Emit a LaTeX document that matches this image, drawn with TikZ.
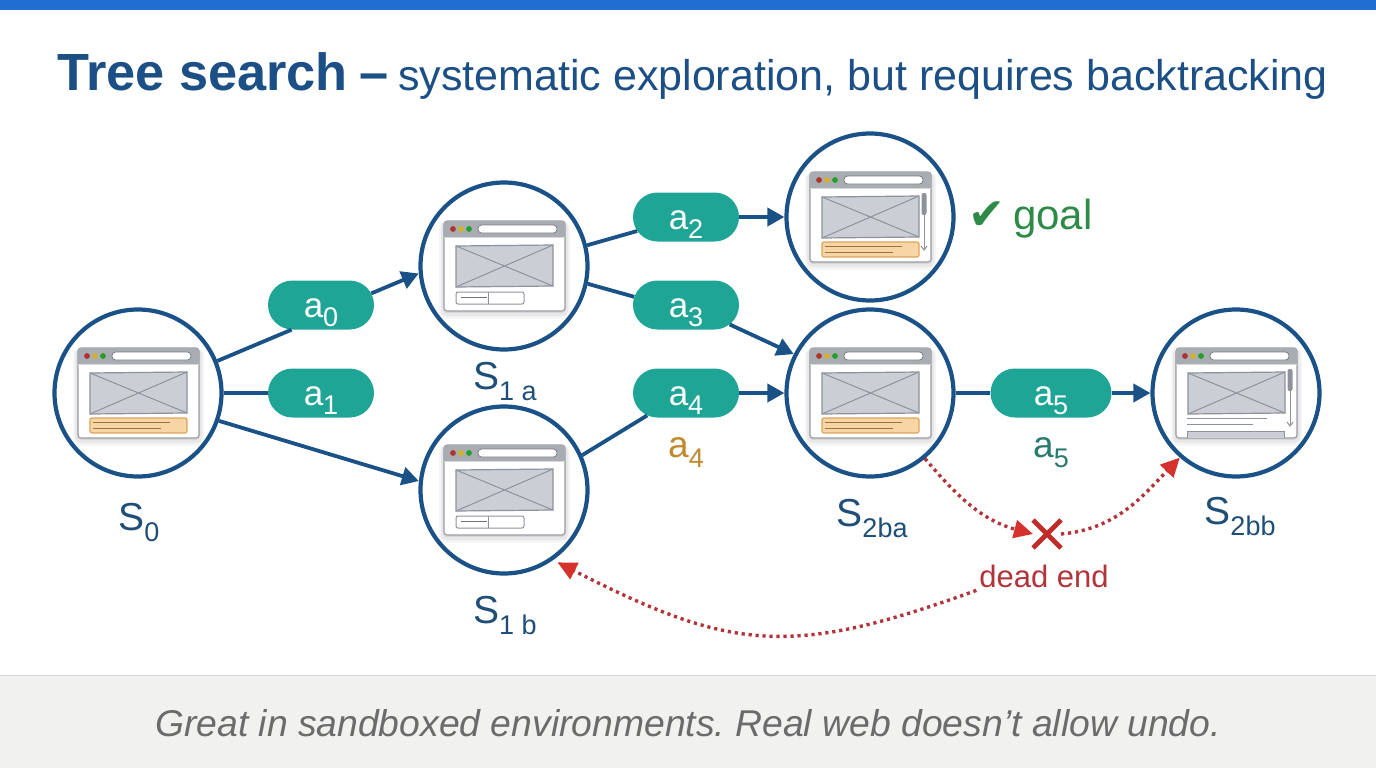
\documentclass[tikz,border=0pt]{standalone}
\usepackage{fontspec}
\setmainfont{Liberation Sans}
\newfontfamily\symfont{DejaVu Sans}
\usetikzlibrary{arrows.meta,shapes.misc}
\definecolor{navy}{HTML}{1A5288}
\definecolor{titleblue}{HTML}{1B4F85}
\definecolor{labelblue}{HTML}{1F4E78}
\definecolor{teal1}{HTML}{1FA596}
\definecolor{topbar}{HTML}{1F6FD2}
\definecolor{band}{HTML}{F1F1F0}
\definecolor{bandline}{HTML}{D6D6D6}
\definecolor{capgrey}{HTML}{6B6B6B}
\definecolor{wframe}{HTML}{9A9DA5}
\definecolor{wbar}{HTML}{A9ACB3}
\definecolor{wimg}{HTML}{CBCED5}
\definecolor{wline}{HTML}{8E929C}
\definecolor{worange}{HTML}{F8D5A4}
\definecolor{worline}{HTML}{DDA45C}
\definecolor{deadred}{HTML}{B2343A}
\definecolor{tipred}{HTML}{D5322E}
\definecolor{goalgreen}{HTML}{2E8B47}
\definecolor{amber}{HTML}{BF8A2E}
\definecolor{darkteal}{HTML}{2A7A70}
\newcommand{\fsz}[1]{\fontsize{#1}{#1}\selectfont}
\newcommand{\statelab}[1]{S\raisebox{-.30em}{\fsz{27}#1}}
\newcommand{\actlab}[1]{a\raisebox{-.28em}{\fsz{27}#1}}
\newcommand{\pilllab}[1]{\raisebox{-12pt}[0pt][0pt]{\actlab{#1}}}
\tikzset{
  state/.style={circle,draw=navy,line width=4.2pt,fill=white,minimum size=167pt,inner sep=0pt},
  pill/.style={rounded rectangle,fill=teal1,text=white,minimum width=106pt,minimum height=49pt,inner sep=0pt,font=\fsz{35}},
  statetext/.style={text=labelblue,font=\fsz{39},anchor=base,inner sep=0pt},
  actiontext/.style={font=\fsz{37},anchor=base,inner sep=0pt},
  edge/.style={draw=navy,line width=3.8pt},
  arrowedge/.style={edge,-{Triangle[length=17pt,width=18pt]}},
  deadedge/.style={draw=deadred,line width=3.4pt,dash pattern=on 3.2pt off 3.8pt,-{Triangle[length=19pt,width=18pt,color=tipred]}},
  winline/.style={draw=wline,line width=1pt},
  pics/winbase/.style={code={
    \fill[black,opacity=.04,rounded corners=6pt] (-65,-44) rectangle (66,53);
    \fill[black,opacity=.05,rounded corners=5pt] (-63,-44) rectangle (64,50);
    \fill[black,opacity=.07,rounded corners=4pt] (-61,-44) rectangle (62,47);
    \draw[wframe,fill=white,line width=1.1pt,rounded corners=3pt] (-60,-45) rectangle (61,45);
    \fill[wbar,rounded corners=3pt] (-60,-45) rectangle (61,-36);
    \fill[wbar] (-60,-38) rectangle (61,-29);
    \draw[white!60!wframe,line width=.6pt] (-60,-29) -- (61,-29);
    \fill[red!60!black!80] (-51,-37) circle (2.9);
    \fill[yellow!70!orange!80!black] (-43,-37) circle (2.9);
    \fill[green!55!black!85] (-35,-37) circle (2.9);
    \draw[wframe!80!black,fill=white,line width=.8pt,rounded corners=3.6pt] (-26,-41) rectangle (53,-33);
    \draw[winline,fill=wimg,line width=1.2pt] (-48,-20) -- (49,-21) -- (49,20) -- (-48,21) -- cycle;
    \draw[winline] (-48,-20) -- (49,20) (-48,21) -- (49,-21);
  }},
  pics/orangebar/.style={code={
    \draw[worline,fill=worange,line width=1.2pt,rounded corners=2pt] (-48,25) rectangle (49,40);
    \draw[black!30!worline,line width=.8pt] (-45,29.5) -- (32,29.5) (-45,35) -- (23,35);
  }},
  pics/formbar/.style={code={
    \draw[wline,fill=white,line width=1pt,rounded corners=2pt] (-48,26) rectangle (20,38);
    \draw[wline,line width=1pt] (-16,26) -- (-16,38);
    \draw[wline!80!black,line width=1.2pt] (-43,31.5) -- (-17,31.5);
  }},
  pics/scrollbar/.style={code={
    \draw[wline,line width=1pt] (54,-5) -- (54,32);
    \draw[wline,line width=1pt] (51,29) -- (54,33) -- (57,29);
    \fill[wline,rounded corners=2pt] (51.5,-24) rectangle (56.5,-2);
  }},
  pics/textbar/.style={code={
    \draw[wline,line width=1pt] (-49,25) -- (31,25) (-49,31) -- (17,31);
    \draw[wline,fill=wimg,line width=1pt] (-49,45) -- (-49,38) -- (48,38) -- (48,45);
  }},
}
\begin{document}
\frenchspacing
\begin{tikzpicture}[x=1pt,y=-1pt]
\useasboundingbox (0,0) rectangle (1376,768);
\fill[white] (0,0) rectangle (1376,768);
\fill[topbar] (0,0) rectangle (1376,10);
\fill[band] (0,675) rectangle (1376,768);
\draw[bandline,line width=1pt] (0,675) -- (1376,675);

\node[anchor=base west,inner sep=0pt,text=titleblue,font=\fsz{52.3}\bfseries] (titlea) at (57,90) {Tree search\hspace{-2.5pt} –};
\node[anchor=base west,inner sep=0pt,text=titleblue,font=\fsz{43}] (titleb) at (398,90) {systematic exploration, but requires backtracking};
\node[anchor=base,inner sep=0pt,text=capgrey,font=\fsz{37.3}\itshape] (caption) at (688,736) {Great in sandboxed environments. Real web doesn’t allow undo.};

% states
\node[state] (S0) at (138,393) {};
\node[state] (S1a) at (504,266) {};
\node[state] (S1b) at (504,490) {};
\node[state] (Sgoal) at (870,217) {};
\node[state] (S2ba) at (870,393) {};
\node[state] (S2bb) at (1236,393) {};

% browser windows
\pic at (S0) {winbase}; \pic at (S0) {orangebar};
\pic at (S1a) {winbase}; \pic at (S1a) {formbar};
\pic at (S1b) {winbase}; \pic at (S1b) {formbar};
\pic at (Sgoal) {winbase}; \pic at (Sgoal) {orangebar}; \pic at (Sgoal) {scrollbar};
\pic at (S2ba) {winbase}; \pic at (S2ba) {orangebar};
\pic at (S2bb) {winbase}; \pic at (S2bb) {textbar}; \pic at (S2bb) {scrollbar};

% actions
\node[pill] (a0) at (321,305) {\pilllab{0}};
\node[pill] (a1) at (321,393) {\pilllab{1}};
\node[pill] (a2) at (686,217) {\pilllab{2}};
\node[pill] (a3) at (686,305) {\pilllab{3}};
\node[pill] (a4) at (686,393) {\pilllab{4}};
\node[pill,minimum width=121pt] (a5) at (1051,393) {\pilllab{5}};

% labels
\node[statetext] (l0) at (139,530) {\statelab{0}};
\node[statetext] (l1a) at (505,389) {\statelab{1 a}};
\node[statetext] (l1b) at (505,623) {\statelab{1 b}};
\node[statetext] (l2ba) at (872,526) {\statelab{2ba}};
\node[statetext] (l2bb) at (1240,524) {\statelab{2bb}};
\node[actiontext,text=amber] (la4) at (686,457) {\actlab{4}};
\node[actiontext,text=darkteal] (la5) at (1051,457) {\actlab{5}};
\node[anchor=base west,inner sep=0pt,text=goalgreen,font=\fsz{42}] (goal) at (968,229) {{\symfont\fsz{44}✔}\hspace{8pt}goal};

% connectors
\draw[edge] (S0.22) -- (a0.220);
\draw[arrowedge] (a0.13) -- (S1a.185);
\draw[edge] (S0.east) -- (a1.west);
\draw[arrowedge] (S0.-19) -- (S1b.174);
\draw[edge] (S1a.14) -- (a2.196);
\draw[arrowedge] (a2.east) -- (Sgoal.west);
\draw[edge] (S1a.-12) -- (a3.171);
\draw[arrowedge] (a3.-24) -- (S2ba.153);
\draw[edge] (S1b.24) -- (a4.210);
\draw[arrowedge] (a4.east) -- (S2ba.west);
\draw[edge] (S2ba.east) -- (a5.west);
\draw[arrowedge] (a5.east) -- (S2bb.west);

% dead end
\node[cross out,draw=tipred!90!black,line width=4.8pt,minimum size=20pt,inner sep=0pt,outer sep=4pt] (deadx) at (1047,534) {};
\node[inner sep=0pt,outer sep=3pt,text=deadred,font=\fsz{31}] (dead) at (1044,576) {dead end};
\draw[deadedge] (S2ba.-50) to[out=-50,in=165] (deadx.west);
\draw[deadedge] (deadx.east) to[out=5,in=226] (S2bb.229);
\draw[deadedge,shorten >=5pt] (dead.south west) to[out=200,in=-27,looseness=1.2] (S1b.-55);
\end{tikzpicture}
\end{document}
